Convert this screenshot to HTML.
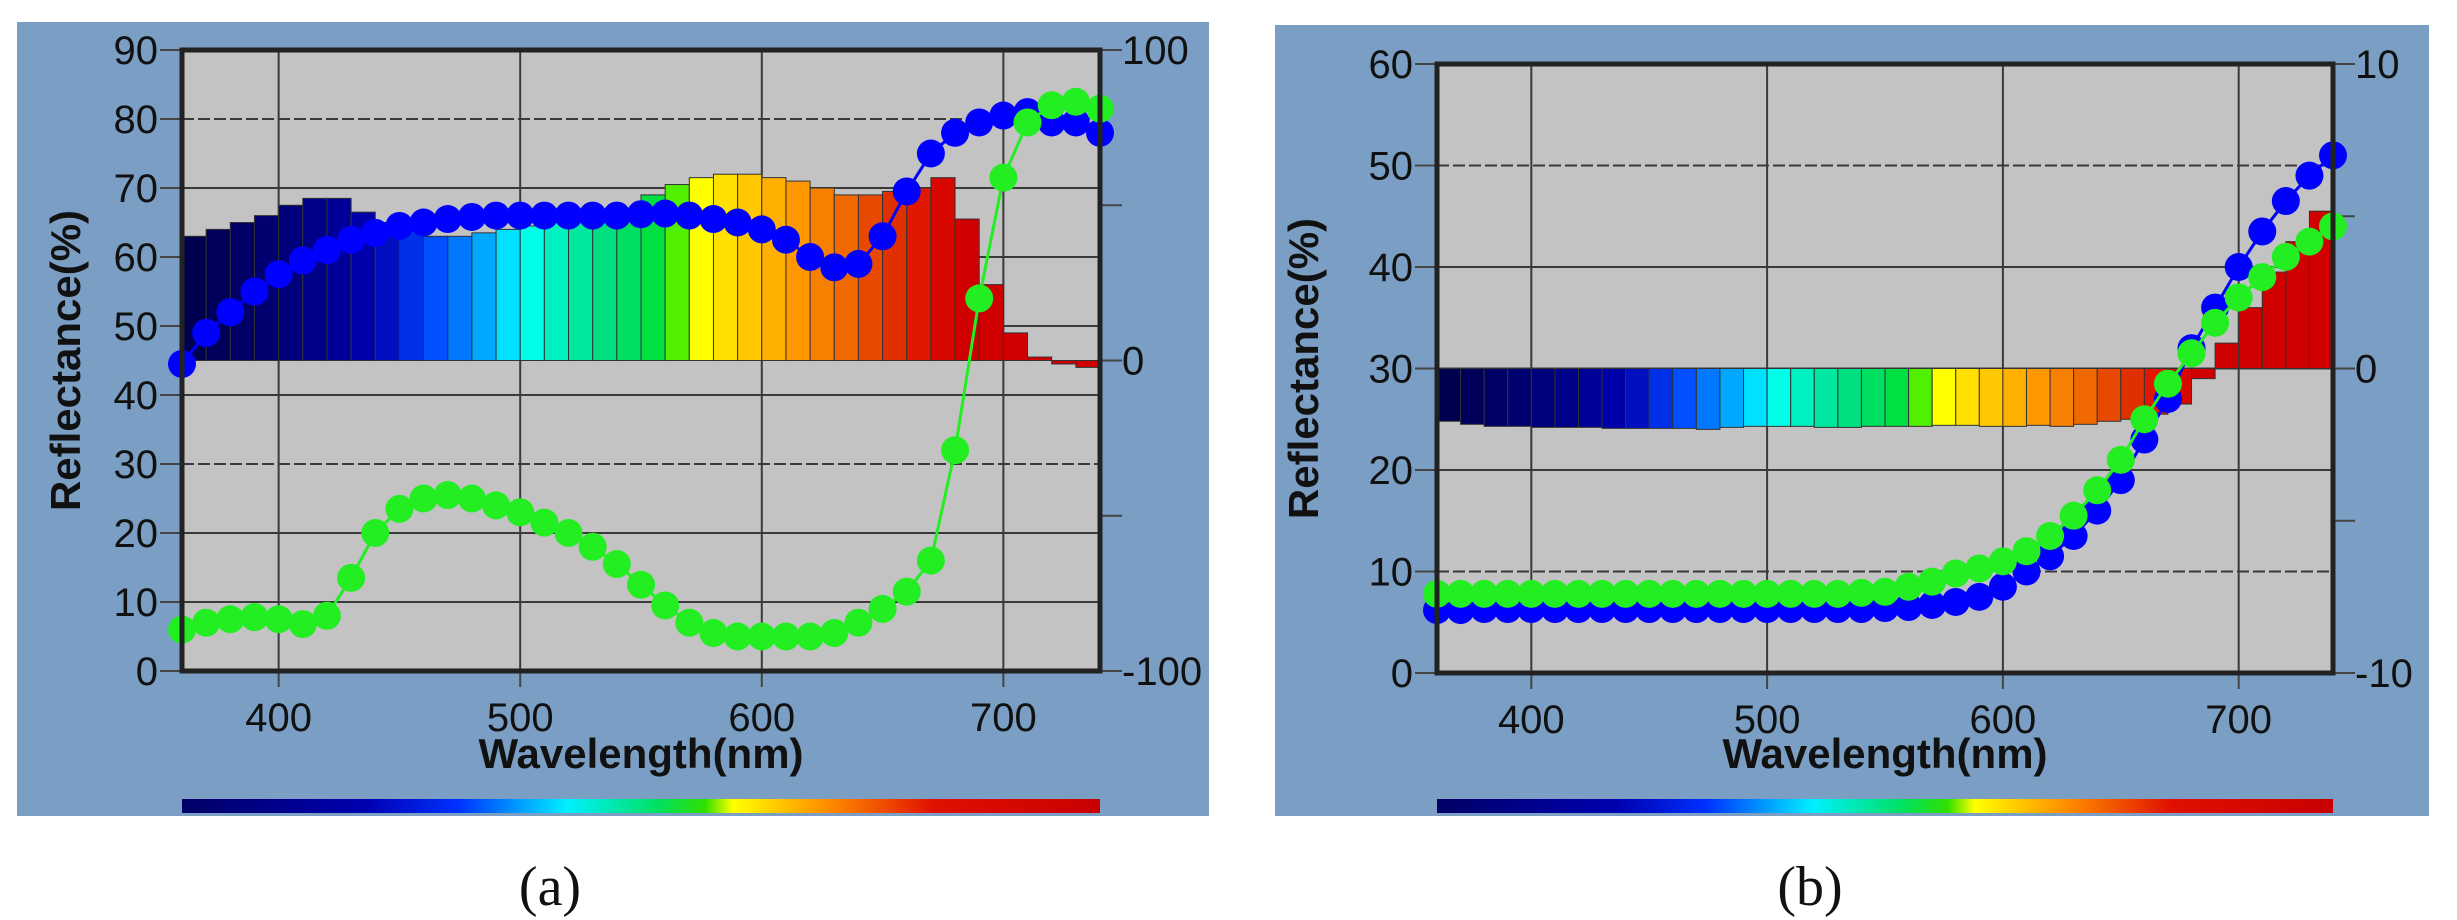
<!DOCTYPE html>
<html><head><meta charset="utf-8"><style>
html,body{margin:0;padding:0;background:#fff;}
svg{display:block;}
</style></head><body>
<svg id="s" width="2457" height="920" viewBox="0 0 2457 920" xmlns="http://www.w3.org/2000/svg" font-family="Liberation Sans, Arial, sans-serif">
<defs>
<linearGradient id="cb" x1="0" x2="1" y1="0" y2="0">
<stop offset="0" stop-color="#000066"/><stop offset="0.2" stop-color="#0000b0"/>
<stop offset="0.3" stop-color="#0030ff"/><stop offset="0.42" stop-color="#00f0ff"/>
<stop offset="0.52" stop-color="#00e060"/><stop offset="0.57" stop-color="#30e000"/>
<stop offset="0.6" stop-color="#ffff00"/><stop offset="0.7" stop-color="#ff9000"/>
<stop offset="0.82" stop-color="#e01000"/><stop offset="1" stop-color="#c80000"/>
</linearGradient>
</defs>
</svg>
<script>
const S=document.getElementById('s');const NS='http://www.w3.org/2000/svg';
function el(t,a,txt){const e=document.createElementNS(NS,t);for(const k in a)e.setAttribute(k,a[k]);if(txt!==undefined)e.textContent=txt;S.appendChild(e);return e;}
const cols=['#000050','#00005a','#000066','#000070','#00007a','#000088','#000098','#0000aa','#0010c0','#0030e8','#0050ff','#0078ff','#00a8ff','#00e0ff','#00ffe8','#00f0c0','#00e8a0','#00e080','#00e060','#00e040','#50f000','#ffff00','#ffe000','#ffc800','#ffb000','#ff9800','#f88000','#f06800','#e84800','#e03000','#e01800','#d80800','#d00000','#d00000','#d00000','#d00000','#d00000','#d00000','#d00000'];
function panel(P){
 const {bx,by,bw,bh,L,R,T,B,ymax,rlab,rtick,barBase}=P;
 el('rect',{x:bx,y:by,width:bw,height:bh,fill:'#7b9fc4'});
 el('rect',{x:L,y:T,width:R-L,height:B-T,fill:'#c3c3c3'});
 const X=w=>L+(w-360)*(R-L)/380, Y=v=>B-v*(B-T)/ymax;
 for(let v=0;v<=ymax;v+=10){const y=Y(v);
  if(v>0&&v<ymax) el('line',{x1:L,x2:R,y1:y,y2:y,stroke:'#3a3a3a','stroke-width':2,'stroke-dasharray':P.dash.includes(v)?'12 4':''});
  el('line',{x1:L-22,x2:L,y1:y,y2:y,stroke:'#444','stroke-width':2});
  el('text',{x:L-24,y:y+14,'font-size':40,'text-anchor':'end',fill:'#111'},v);}
 for(const w of [400,500,600,700]){const x=X(w);
  el('line',{x1:x,x2:x,y1:T,y2:B,stroke:'#3a3a3a','stroke-width':2});
  el('line',{x1:x,x2:x,y1:B,y2:B+16,stroke:'#444','stroke-width':2});
  el('text',{x:x,y:B+60,'font-size':40,'text-anchor':'middle',fill:'#111'},w);}
 const base=Y(barBase);
 P.bars.forEach((v,i)=>{if(v==null)return;const x0=X(360+10*i),x1=X(370+10*i);const y=Y(v);
  el('rect',{x:x0,y:Math.min(y,base),width:x1-x0,height:Math.abs(base-y),fill:cols[i],stroke:'#333','stroke-width':1});});
 rtick.forEach(f=>{const y=T+f*(B-T);el('line',{x1:R,x2:R+22,y1:y,y2:y,stroke:'#444','stroke-width':2});});
 rlab.forEach(([f,t])=>{el('text',{x:R+22,y:T+f*(B-T)+14,'font-size':40,fill:'#111'},t);});
 for(const [data,c] of [[P.blue,'#0000ff'],[P.green,'#22ee22']]){
  const pts=data.map((v,i)=>[X(360+10*i),Y(v)]);
  el('polyline',{points:pts.map(p=>p.join(',')).join(' '),fill:'none',stroke:c,'stroke-width':3});
  pts.forEach(p=>el('circle',{cx:p[0],cy:p[1],r:14,fill:c}));
 }
 el('rect',{x:L,y:T,width:R-L,height:B-T,fill:'none',stroke:'#222','stroke-width':5});
 el('rect',{x:L,y:P.cy,width:R-L,height:14,fill:'url(#cb)'});
 el('text',{x:P.ytx,y:(T+B)/2,'font-size':42,'font-weight':'bold','text-anchor':'middle',fill:'#111',transform:`rotate(-90 ${P.ytx} ${(T+B)/2})`},'Reflectance(%)');
 el('text',{x:(L+R)/2,y:768,'font-size':42,'font-weight':'bold','text-anchor':'middle',fill:'#111'},'Wavelength(nm)');
 el('text',{x:P.capx,y:905,'font-size':56,'text-anchor':'middle',fill:'#111','font-family':'Liberation Serif, serif'},P.cap);
}
panel({bx:17,by:22,bw:1192,bh:794,L:182,R:1100,T:50,B:671,ymax:90,barBase:45,dash:[80,30],
 rlab:[[0,'100'],[0.5,'0'],[1,'-100']],rtick:[0,0.25,0.5,0.75,1],cy:799,ytx:80,capx:550,cap:'(a)',
 bars:[63,64,65,66,67.5,68.5,68.5,66.5,65,64,63,63,63.5,64,64.5,65,65.5,66,67,69,70.5,71.5,72,72,71.5,71,70,69,69,69.5,70,71.5,65.5,56,49,45.5,44.5,44],
 blue:[44.5,49,52,55,57.5,59.5,61,62.5,63.5,64.5,65,65.5,65.8,66,66,66,66,66,66,66.2,66.3,66,65.5,65,64,62.5,60,58.5,59,63,69.5,75,78,79.5,80.5,81,79.5,79.5,78],
 green:[6,7,7.5,7.8,7.5,6.8,8,13.5,20,23.5,25,25.5,25,24,23,21.5,20,18,15.5,12.5,9.5,7,5.5,5,5,5,5,5.5,7,9,11.5,16,32,54,71.5,79.5,82,82.5,81.5]});
panel({bx:1275,by:25,bw:1154,bh:791,L:1437,R:2333,T:64,B:673,ymax:60,barBase:30,dash:[50,10],
 rlab:[[0,'10'],[0.5,'0'],[1,'-10']],rtick:[0,0.25,0.5,0.75,1],cy:799,ytx:1318,capx:1810,cap:'(b)',
 bars:[24.8,24.5,24.3,24.3,24.2,24.2,24.2,24.1,24.1,24.1,24.1,24,24.2,24.3,24.3,24.3,24.2,24.2,24.3,24.3,24.3,24.4,24.4,24.3,24.3,24.4,24.3,24.5,24.8,25,25.5,26.5,29,32.5,36,39.5,42.5,45.5,49],
 blue:[6.2,6.2,6.3,6.3,6.3,6.3,6.3,6.3,6.3,6.3,6.3,6.3,6.3,6.3,6.3,6.3,6.3,6.3,6.3,6.4,6.5,6.7,7,7.5,8.5,10,11.5,13.5,16,19,23,27,32,36,40,43.5,46.5,49,51],
 green:[7.8,7.8,7.8,7.8,7.8,7.8,7.8,7.8,7.8,7.8,7.8,7.8,7.8,7.8,7.8,7.8,7.8,7.8,7.9,8,8.5,9,9.8,10.3,11,12,13.5,15.5,18,21,25,28.5,31.5,34.5,37,39,41,42.5,44].slice(0,39)});
</script>
<script>
// remove overflowing last bar in panel (b) if beyond plot edge
document.querySelectorAll('#s rect').forEach(r=>{const x=+r.getAttribute('x');if(x>=2332&&x<2400&&r.getAttribute('height')>0&&r.getAttribute('fill')!=='url(#cb)')r.remove();});
</script>
</body></html>
